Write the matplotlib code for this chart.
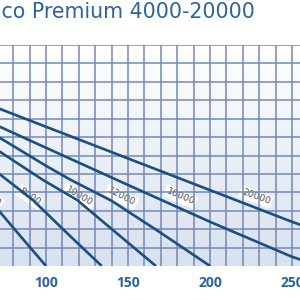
import numpy as np
import matplotlib
matplotlib.use("Agg")
import matplotlib.pyplot as plt
from matplotlib.colors import LinearSegmentedColormap

# Flow (l/min) and head (m)
q_6000 = [60, 85, 100]
h_6000 = [2.09, 0.78, 0.0]
q_8000 = [60, 92, 115, 134]
h_8000 = [2.90, 1.79, 0.80, 0.0]
q_10000 = [60, 98, 119, 145, 167]
h_10000 = [3.45, 2.34, 1.79, 0.82, 0.0]
q_12000 = [60, 100, 115, 140, 170, 200]
h_12000 = [3.80, 2.72, 2.34, 1.77, 0.90, 0.0]
q_16000 = [60, 100, 150, 200, 250, 267]
h_16000 = [4.02, 3.21, 2.20, 1.20, 0.25, 0.0]
q_20000 = [60, 100, 150, 200, 250, 300]
h_20000 = [4.47, 3.78, 2.92, 2.06, 1.20, 0.40]

curve_labels = ["6000", "8000", "10000", "12000", "16000", "20000"]
label_q = [66, 90, 120, 146, 182, 228]
label_h = [1.88, 1.88, 1.88, 1.88, 1.88, 1.88]
label_rot = [-40, -34, -30, -27, -23, -20]

x_ticks = [50, 100, 150, 200, 250, 300]
title = "Aquamax Eco Premium 4000-20000"

line_color = "#1c4f7f"
grid_color = "#7389b8"
text_blue = "#2d62a0"

fig = plt.figure(figsize=(3, 3), dpi=100)
ax = fig.add_axes([0, 34/300, 1, 221/300])
xmin, xmax = 100 - 46/1.64, 100 + 254/1.64

# background gradient
grad = np.linspace(0, 1, 256).reshape(-1, 1)
cmap = LinearSegmentedColormap.from_list("bg", ["#d8e1ef", "#ffffff"])
ax.imshow(grad, extent=[0, 1, 0, 1], transform=ax.transAxes, cmap=cmap,
          aspect="auto", origin="lower", zorder=0)

for s in ax.spines.values():
    s.set_visible(False)

ax.set_xticks(x_ticks)
ax.set_xticks(np.arange(70, 260, 10), minor=True)
ax.set_yticks(np.arange(0.5, 6.01, 0.5))
ax.grid(True, which="both", color=grid_color, lw=1.1, zorder=1)
ax.set_axisbelow(False)
ax.tick_params(axis="x", which="both", length=0, pad=7.5, labelsize=10,
               labelcolor=text_blue)
ax.tick_params(axis="y", which="both", length=0, labelleft=False)
for lab in ax.get_xticklabels():
    lab.set_fontfamily("Open Sans")
    lab.set_fontweight("bold")

curves = [(q_6000, h_6000), (q_8000, h_8000), (q_10000, h_10000),
          (q_12000, h_12000), (q_16000, h_16000), (q_20000, h_20000)]
for q, h in curves:
    ax.plot(q, h, color=line_color, lw=1.9, solid_capstyle="butt", zorder=3)

for t, xq, yh, r in zip(curve_labels, label_q, label_h, label_rot):
    ax.text(xq, yh, t, rotation=r, ha="center", va="center", fontsize=6.8,
            color="#505050", family="DejaVu Sans", zorder=2.5,
            bbox=dict(boxstyle="square,pad=0.2", fc="white", ec="none"))

ax.set_xlim(xmin, xmax)
ax.set_ylim(0, 6)

fig.text(255/300, 1 - 12/300, title, ha="right", va="center", fontsize=14.8,
         color=text_blue, family="DejaVu Sans")

fig.savefig("out.png", dpi=100)
